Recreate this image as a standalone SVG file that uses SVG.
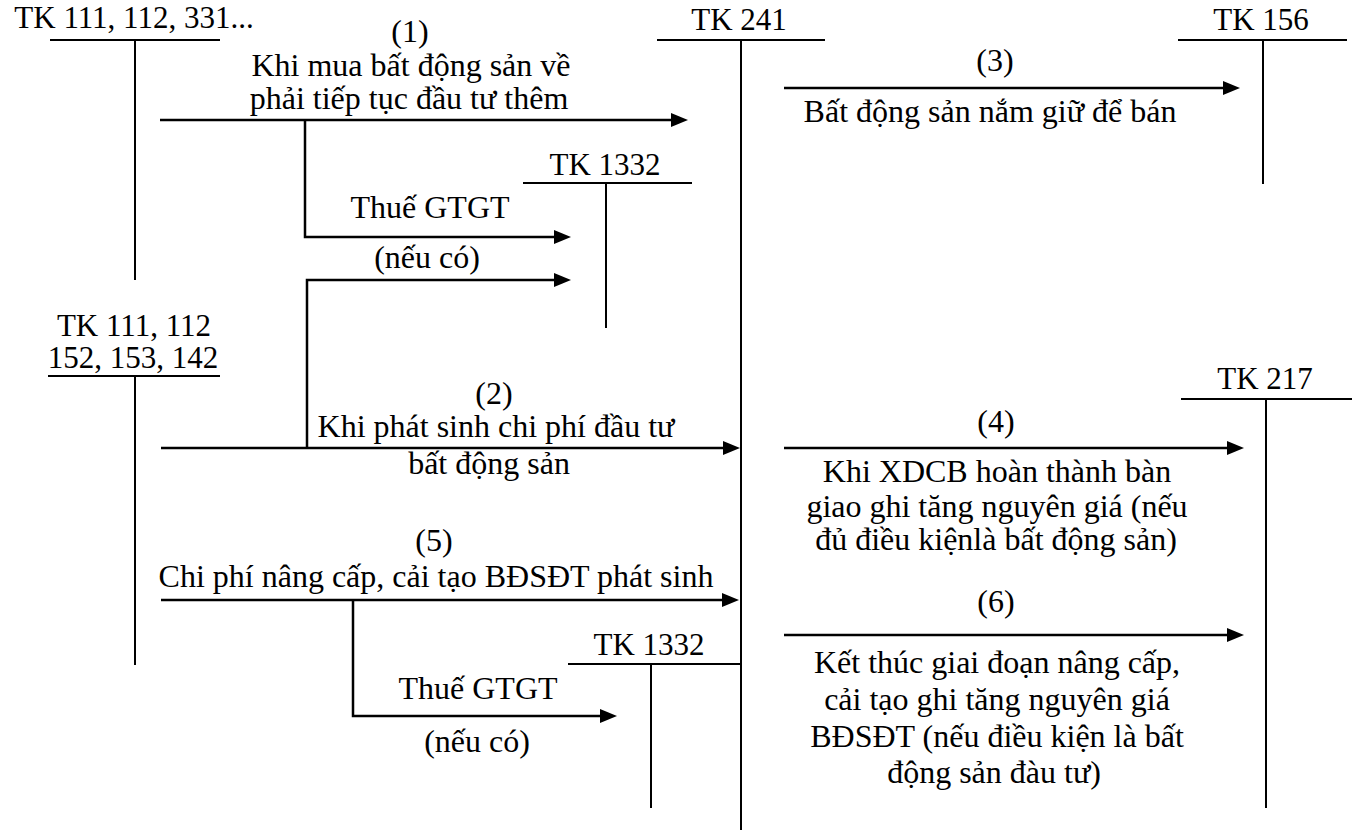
<svg xmlns="http://www.w3.org/2000/svg" width="1353" height="832" viewBox="0 0 1353 832">
<defs>
<style>
text{font-family:"Liberation Serif","Times New Roman",serif;font-size:32px;fill:#000;text-anchor:middle}
.tk{font-size:31px}
.ln{stroke:#000;stroke-width:2;fill:none}
.ar{stroke:#000;stroke-width:2.5;fill:none;marker-end:url(#ah)}
</style>
<marker id="ah" markerUnits="userSpaceOnUse" markerWidth="17" markerHeight="14" refX="0" refY="7" orient="auto">
<path d="M0,0 L17,7 L0,14 z" fill="#000"/>
</marker>
</defs>
<rect width="1353" height="832" fill="#fff"/>

<g id="tk111a">
<text class="tk" x="134" y="28">TK 111, 112, 331...</text>
<line class="ln" x1="50" y1="40" x2="220" y2="40"/>
<line class="ln" x1="135" y1="40" x2="135" y2="280"/>
</g>
<g id="tk241">
<text class="tk" x="739" y="30">TK 241</text>
<line class="ln" x1="657" y1="40" x2="825" y2="40"/>
<line class="ln" x1="741" y1="40" x2="741" y2="830"/>
</g>
<g id="tk156">
<text class="tk" x="1261" y="30">TK 156</text>
<line class="ln" x1="1178" y1="40" x2="1347" y2="40"/>
<line class="ln" x1="1263" y1="40" x2="1263" y2="184"/>
</g>
<g id="tk1332a">
<text class="tk" x="605" y="175">TK 1332</text>
<line class="ln" x1="523" y1="183" x2="692" y2="183"/>
<line class="ln" x1="606" y1="183" x2="606" y2="328"/>
</g>
<g id="tk111b">
<text class="tk" x="134" y="336">TK 111, 112</text>
<text class="tk" x="133" y="368">152, 153, 142</text>
<line class="ln" x1="48" y1="376" x2="220" y2="376"/>
<line class="ln" x1="135" y1="376" x2="135" y2="665"/>
</g>
<g id="tk217">
<text class="tk" x="1265" y="389">TK 217</text>
<line class="ln" x1="1181" y1="399" x2="1352" y2="399"/>
<line class="ln" x1="1266" y1="399" x2="1266" y2="808"/>
</g>
<g id="tk1332b">
<text class="tk" x="649" y="655">TK 1332</text>
<line class="ln" x1="568" y1="664" x2="740" y2="664"/>
<line class="ln" x1="651" y1="664" x2="651" y2="808"/>
</g>

<g id="connectors">
<line class="ar" x1="160" y1="120" x2="671" y2="120"/>
<polyline class="ar" points="305,120 305,237 554,237"/>
<polyline class="ar" points="307,448 307,280 554,280"/>
<line class="ar" x1="161" y1="448" x2="723" y2="448"/>
<line class="ar" x1="784" y1="88" x2="1223" y2="88"/>
<line class="ar" x1="784" y1="448" x2="1227" y2="448"/>
<line class="ar" x1="161" y1="600" x2="722" y2="600"/>
<polyline class="ar" points="353,600 353,716 600,716"/>
<line class="ar" x1="784" y1="635" x2="1227" y2="635"/>
</g>

<g id="labels">
<text x="410" y="42">(1)</text>
<text x="411" y="76">Khi mua bất động sản về</text>
<text x="409" y="109">phải tiếp tục đầu tư thêm</text>
<text x="995" y="71">(3)</text>
<text x="990" y="122">Bất động sản nắm giữ để bán</text>
<text x="430" y="218">Thuế GTGT</text>
<text x="427" y="268">(nếu có)</text>
<text x="494" y="404">(2)</text>
<text x="496" y="437">Khi phát sinh chi phí đầu tư</text>
<text x="489" y="474">bất động sản</text>
<text x="996" y="432">(4)</text>
<text x="997" y="482">Khi XDCB hoàn thành bàn</text>
<text x="997" y="517">giao ghi tăng nguyên giá (nếu</text>
<text x="996" y="550">đủ điều kiệnlà bất động sản)</text>
<text x="434" y="551">(5)</text>
<text x="436" y="587">Chi phí nâng cấp, cải tạo BĐSĐT phát sinh</text>
<text x="996" y="612">(6)</text>
<text x="997" y="673">Kết thúc giai đoạn nâng cấp,</text>
<text x="997" y="710">cải tạo ghi tăng nguyên giá</text>
<text x="997" y="747">BĐSĐT (nếu điều kiện là bất</text>
<text x="994" y="783">động sản đàu tư)</text>
<text x="478" y="699">Thuế GTGT</text>
<text x="477" y="752">(nếu có)</text>
</g>
</svg>
